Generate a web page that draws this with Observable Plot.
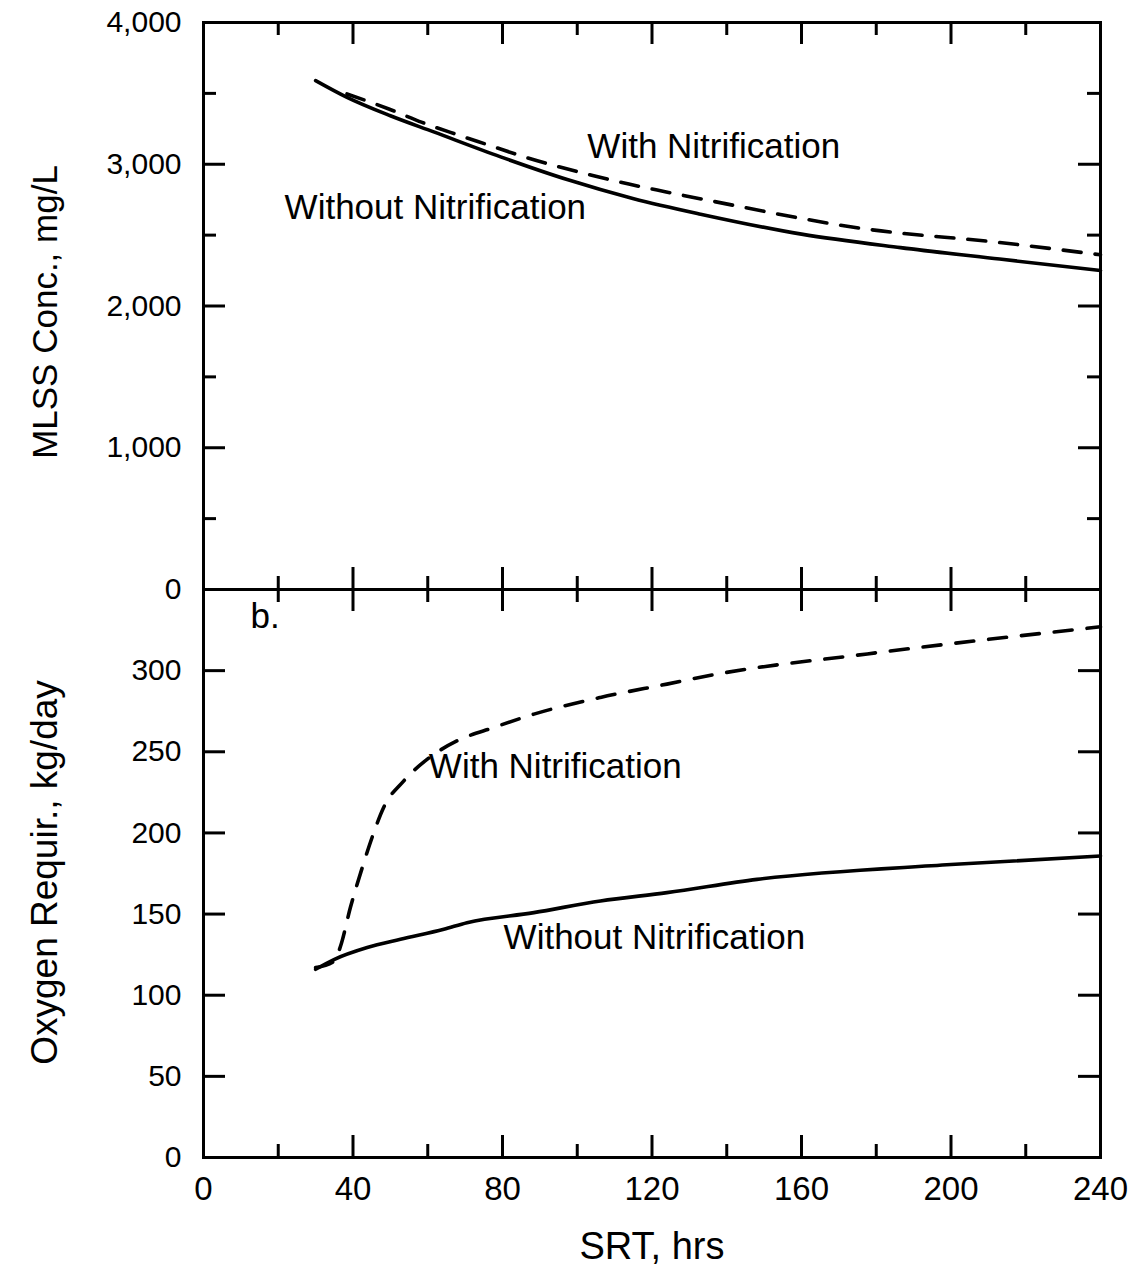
<!DOCTYPE html>
<html><head><meta charset="utf-8">
<script src="https://cdn.jsdelivr.net/npm/d3@7"></script>
<script src="https://cdn.jsdelivr.net/npm/@observablehq/plot@0.6"></script>
<style>
body{margin:0;background:#fff;}
#chart{position:relative;width:1135px;height:1267px;font-family:"Liberation Sans",Arial,sans-serif;}
#chart svg{position:absolute;left:0;overflow:visible;}
</style></head><body><div id="chart"></div>
<script>
// ---- Data ----
// Panel a: MLSS concentration (mg/L) vs SRT (hrs)
const srtMlssWithout = [30, 38.4, 50, 61.6, 79.5, 97.3, 115.1, 133, 160, 186.5, 213, 240];
const mlssWithout    = [3590, 3472, 3342, 3228, 3052, 2892, 2757, 2648, 2507, 2412, 2331, 2250];
const srtMlssWith    = [38.4, 49.6, 58.5, 67.4, 76.8, 85.7, 95.1, 104.4, 113.8, 123.2, 135.7, 177.6, 213, 240];
const mlssWith       = [3496, 3390, 3295, 3213, 3131, 3053, 2982, 2919, 2860, 2808, 2742, 2542, 2448, 2361];
// Panel b: oxygen requirement (kg/day) vs SRT (hrs)
const srtO2Without = [30, 34.9, 43.8, 52.7, 64.3, 70.5, 88.4, 106.2, 124, 148.1, 200, 240];
const o2Without    = [116, 122, 129.4, 134.5, 140.7, 144.7, 150.9, 158.1, 163.2, 171.4, 180.5, 185.8];
const srtO2With    = [30, 35, 36.7, 39.3, 42.5, 45.1, 48.2, 53.6, 59.9, 67.9, 77.7, 88.4, 106.2, 124, 136.5, 177.6, 240];
const o2With       = [117, 121, 130.5, 154, 178.8, 197.2, 215.7, 232.1, 245.5, 256.8, 265, 273.2, 283.5, 291.7, 297.5, 310.3, 327];

// Ticks and labels
const xMajor = [0, 40, 80, 120, 160, 200, 240];
const xMinor = [20, 60, 100, 140, 180, 220];
const mlssMajor = [0, 1000, 2000, 3000, 4000];
const mlssMinor = [500, 1500, 2500, 3500];
const o2Major = [0, 50, 100, 150, 200, 250, 300];
const xTitle = "SRT, hrs";
const mlssTitle = "MLSS Conc., mg/L";
const o2Title = "Oxygen Requir., kg/day";
const annotA = [
  {srt: 102.7, v: 3123, text: "With Nitrification"},
  {srt: 21.7, v: 2693, text: "Without Nitrification"}
];
const annotB = [
  {srt: 12.6, v: 333, text: "b."},
  {srt: 60.3, v: 241, text: "With Nitrification"},
  {srt: 80.3, v: 135.3, text: "Without Nitrification"}
];

const zip = (xs, ys) => xs.map((x, i) => ({x, y: ys[i]}));
const comma = d3.format(",");

const W = 1135, ML = 203, MR = 35;
const PW = W - ML - MR;          // plot width
const FONT = '"Liberation Sans", Arial, sans-serif';
const LW = 3, MAJ = 22, MIN = 13, DW = 3.6;

// ---- Top panel ----
const topH = 599, topMT = 22, topMB = 10;
const topPH = topH - topMT - topMB;
const panelA = Plot.plot({
  width: W, height: topH,
  marginLeft: ML, marginRight: MR, marginTop: topMT, marginBottom: topMB,
  style: {background: "transparent", fontFamily: FONT, color: "black", overflow: "visible"},
  x: {domain: [0, 240], axis: null},
  y: {domain: [0, 4000], axis: null},
  marks: [
    Plot.line(zip(srtMlssWithout, mlssWithout), {x: "x", y: "y", stroke: "black", strokeWidth: DW, curve: "monotone-x"}),
    Plot.line(zip(srtMlssWith, mlssWith), {x: "x", y: "y", stroke: "black", strokeWidth: DW, strokeDasharray: "18,14", curve: "monotone-x"}),
    Plot.tickY(mlssMajor, {y: d => d, insetRight: PW - MAJ, strokeWidth: LW}),
    Plot.tickY(mlssMinor, {y: d => d, insetRight: PW - MIN, strokeWidth: LW}),
    Plot.tickY(mlssMajor, {y: d => d, insetLeft: PW - MAJ, strokeWidth: LW}),
    Plot.tickY(mlssMinor, {y: d => d, insetLeft: PW - MIN, strokeWidth: LW}),
    Plot.tickX(xMajor, {x: d => d, insetBottom: topPH - MAJ, strokeWidth: LW}),
    Plot.tickX(xMinor, {x: d => d, insetBottom: topPH - MIN, strokeWidth: LW}),
    Plot.tickX(xMajor, {x: d => d, insetTop: topPH - MAJ, strokeWidth: LW}),
    Plot.tickX(xMinor, {x: d => d, insetTop: topPH - MIN, strokeWidth: LW}),
    Plot.frame({stroke: "black", strokeWidth: LW}),
    Plot.axisY(mlssMajor, {anchor: "left", tickSize: 0, tickPadding: 22, tickFormat: comma, fontSize: 30, label: null}),
    Plot.text([mlssTitle], {text: d => d, frameAnchor: "left", dx: -158, dy: 6, rotate: -90, textAnchor: "middle", lineAnchor: "middle", fontSize: 35}),
    Plot.text(annotA, {x: "srt", y: "v", text: "text", textAnchor: "start", fontSize: 35})
  ]
});
panelA.style.top = "0px";

// ---- Bottom panel ----
const botTop = 579, botH = 688, botMT = 10, botMB = 110;
const botPH = botH - botMT - botMB;
const panelB = Plot.plot({
  width: W, height: botH,
  marginLeft: ML, marginRight: MR, marginTop: botMT, marginBottom: botMB,
  style: {background: "transparent", fontFamily: FONT, color: "black", overflow: "visible"},
  x: {domain: [0, 240], axis: null},
  y: {domain: [0, 350], axis: null},
  marks: [
    Plot.line(zip(srtO2Without, o2Without), {x: "x", y: "y", stroke: "black", strokeWidth: DW, curve: "monotone-x"}),
    Plot.line(zip(srtO2With, o2With), {x: "x", y: "y", stroke: "black", strokeWidth: DW, strokeDasharray: "18,15", curve: "monotone-x"}),
    Plot.tickY(o2Major, {y: d => d, insetRight: PW - MAJ, strokeWidth: LW}),
    Plot.tickY(o2Major, {y: d => d, insetLeft: PW - MAJ, strokeWidth: LW}),
    Plot.tickX(xMajor, {x: d => d, insetBottom: botPH - MAJ, strokeWidth: LW}),
    Plot.tickX(xMinor, {x: d => d, insetBottom: botPH - MIN, strokeWidth: LW}),
    Plot.tickX(xMajor, {x: d => d, insetTop: botPH - MAJ, strokeWidth: LW}),
    Plot.tickX(xMinor, {x: d => d, insetTop: botPH - MIN, strokeWidth: LW}),
    Plot.frame({stroke: "black", strokeWidth: LW}),
    Plot.axisY(o2Major, {anchor: "left", tickSize: 0, tickPadding: 22, fontSize: 30, label: null}),
    Plot.axisX(xMajor, {anchor: "bottom", tickSize: 0, tickPadding: 19, fontSize: 33, label: null}),
    Plot.text([o2Title], {text: d => d, frameAnchor: "left", dx: -158, dy: -1, rotate: -90, textAnchor: "middle", lineAnchor: "middle", fontSize: 37}),
    Plot.text([xTitle], {text: d => d, frameAnchor: "bottom", dy: 89, textAnchor: "middle", lineAnchor: "middle", fontSize: 38}),
    Plot.text(annotB, {x: "srt", y: "v", text: "text", textAnchor: "start", fontSize: 35})
  ]
});
panelB.style.top = botTop + "px";

const chart = document.getElementById("chart");
chart.appendChild(panelA);
chart.appendChild(panelB);
</script></body></html>
